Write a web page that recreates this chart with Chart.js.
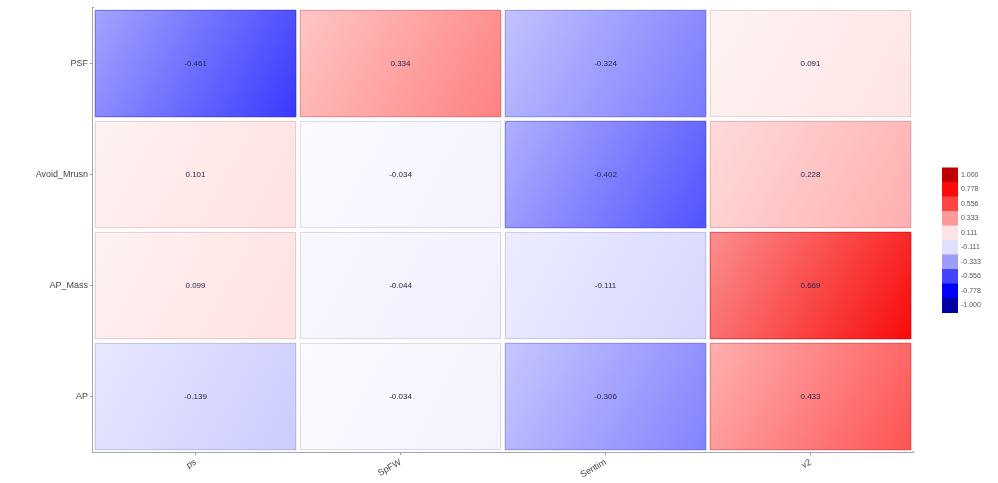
<!DOCTYPE html>
<html>
<head>
<meta charset="utf-8">
<script src="https://cdn.jsdelivr.net/npm/chart.js@4.4.1/dist/chart.umd.min.js"></script>
<style>
  html, body { margin: 0; padding: 0; background: #ffffff; }
  #wrap { width: 998px; height: 483px; position: relative; }
</style>
</head>
<body>
<div id="wrap"><canvas id="c" width="998" height="483"></canvas></div>
<script>
// ---- data ----
const columns = ['ps', 'SpFW', 'Sentim', 'v2'];
const rowsTopDown = ['PSF', 'Avoid_Mrusn', 'AP_Mass', 'AP'];
const psfValues = [-0.461, 0.334, -0.324, 0.091];
const avoidMrusnValues = [0.101, -0.034, -0.402, 0.228];
const apMassValues = [0.099, -0.044, -0.111, 0.669];
const apValues = [-0.139, -0.034, -0.306, 0.433];
const legendTicks = [1.000, 0.778, 0.556, 0.333, 0.111, -0.111, -0.333, -0.556, -0.778, -1.000];

const rowValues = [psfValues, avoidMrusnValues, apMassValues, apValues];
const nRows = rowsTopDown.length;

// ---- colour ramp (style) ----
const posStops = [[0, [255,255,255]], [0.111, [255,228,228]], [0.333, [255,154,154]], [0.556, [255,68,68]], [0.778, [255,10,10]], [1, [192,0,0]]];
const negStops = [[0, [255,255,255]], [0.111, [224,224,255]], [0.333, [156,156,255]], [0.556, [68,68,255]], [0.778, [0,0,255]], [1, [0,0,168]]];
function ramp(v) {
  const stops = v >= 0 ? posStops : negStops;
  const a = Math.min(1, Math.abs(v));
  for (let i = 1; i < stops.length; i++) {
    if (a <= stops[i][0]) {
      const t = (a - stops[i-1][0]) / (stops[i][0] - stops[i-1][0]);
      return stops[i-1][1].map((c, k) => Math.round(c + (stops[i][1][k] - c) * t));
    }
  }
  return stops[stops.length-1][1];
}
const rgb = c => `rgb(${c[0]},${c[1]},${c[2]})`;
const mixWhite = (c, f) => c.map(x => Math.round(x + (255 - x) * f));
const cellEnd = v => ramp(v * (v < 0 ? 1.3 : 1.2));

function cellFill(context, rowIdx) {
  const chart = context.chart;
  if (!chart.chartArea) return '#ffffff';
  const v = rowValues[rowIdx][context.dataIndex];
  const xs = chart.scales.x, ys = chart.scales.y;
  const cw = xs.width / columns.length;
  const cx = xs.getPixelForValue(context.dataIndex);
  const p = nRows - 1 - rowIdx;
  const y0 = ys.getPixelForValue(p + 1), y1 = ys.getPixelForValue(p);
  const end = cellEnd(v);
  const g = chart.ctx.createLinearGradient(cx - cw / 2, y0, cx + cw / 2, y1);
  g.addColorStop(0, rgb(mixWhite(end, 0.55)));
  g.addColorStop(1, rgb(end));
  return g;
}

const datasets = rowsTopDown.map((name, i) => {
  const p = nRows - 1 - i;
  return {
    label: name,
    data: rowValues[i].map(() => [p, p + 1]),
    backgroundColor: ctx => cellFill(ctx, i),
    borderColor: '#ffffff',
    borderWidth: 2,
    borderSkipped: false,
    barPercentage: 1,
    categoryPercentage: 1,
    grouped: false
  };
});

const valueLabels = {
  id: 'valueLabels',
  afterDatasetsDraw(chart) {
    const ctx = chart.ctx;
    ctx.save();
    chart.data.datasets.forEach((ds, i) => {
      const meta = chart.getDatasetMeta(i);
      meta.data.forEach((el, j) => {
        const v = rowValues[i][j];
        const end = cellEnd(v);
        const w = el.width, top = Math.min(el.y, el.base), h = Math.abs(el.base - el.y);
        ctx.strokeStyle = `rgba(${Math.round(end[0]*0.7)},${Math.round(end[1]*0.7)},${Math.round(end[2]*0.75)},0.35)`;
        ctx.lineWidth = 1;
        ctx.strokeRect(el.x - w / 2 + 2.5, top + 2.5, w - 5, h - 5);
      });
    });
    ctx.font = '8px "Liberation Sans", Arial, sans-serif';
    ctx.fillStyle = '#26264a';
    ctx.textAlign = 'center';
    ctx.textBaseline = 'middle';
    chart.data.datasets.forEach((ds, i) => {
      const meta = chart.getDatasetMeta(i);
      meta.data.forEach((el, j) => {
        const v = rowValues[i][j];
        const yc = (el.y + el.base) / 2;
        ctx.fillText(v.toFixed(3), el.x, yc);
      });
    });
    ctx.restore();
  }
};

const colourLegend = {
  id: 'colourLegend',
  afterDraw(chart) {
    const ctx = chart.ctx;
    const a = chart.chartArea;
    const bw = 16, bh = 14.5;
    const total = bh * legendTicks.length;
    const x = a.right + 29;
    const top = (a.top + a.bottom) / 2 - total / 2 + 10;
    ctx.save();
    legendTicks.forEach((t, k) => {
      ctx.fillStyle = rgb(ramp(t));
      ctx.fillRect(x, top + k * bh, bw, bh + 0.5);
    });
    ctx.font = '7px "Liberation Sans", Arial, sans-serif';
    ctx.fillStyle = '#555555';
    ctx.textAlign = 'left';
    ctx.textBaseline = 'middle';
    legendTicks.forEach((t, k) => {
      ctx.fillText(t.toFixed(3), x + bw + 3, top + k * bh + bh / 2);
    });
    ctx.restore();
  }
};

new Chart(document.getElementById('c'), {
  type: 'bar',
  data: { labels: columns, datasets },
  options: {
    responsive: false,
    animation: false,
    events: [],
    layout: { padding: { top: 8, right: 85, left: 0, bottom: 0 } },
    plugins: { legend: { display: false }, tooltip: { enabled: false } },
    scales: {
      x: {
        type: 'category',
        offset: true,
        grid: { display: true, offset: false, drawOnChartArea: false, tickLength: 3, color: '#9a9aae' },
        border: { display: true, color: '#a4a4bc', width: 2 },
        ticks: { minRotation: 30, maxRotation: 30, color: '#444444', padding: 2,
                 font: { size: 9, family: '"Liberation Sans", Arial, sans-serif' } },
        afterFit(s) { s.height = 31; }
      },
      y: {
        type: 'linear',
        min: 0,
        max: nRows,
        afterBuildTicks(s) { s.ticks = rowsTopDown.map((_, i) => ({ value: nRows - 1 - i + 0.5 })); },
        grid: { display: true, drawOnChartArea: false, tickLength: 3, color: '#9a9aae' },
        border: { display: true, color: '#a4a4bc', width: 2 },
        ticks: {
          color: '#444444', padding: 2,
          font: { size: 9, family: '"Liberation Sans", Arial, sans-serif' },
          callback(value) { return rowsTopDown[nRows - 1 - Math.round(value - 0.5)]; }
        },
        afterFit(s) { s.width = 93; }
      }
    }
  },
  plugins: [valueLabels, colourLegend]
});
</script>
</body>
</html>
